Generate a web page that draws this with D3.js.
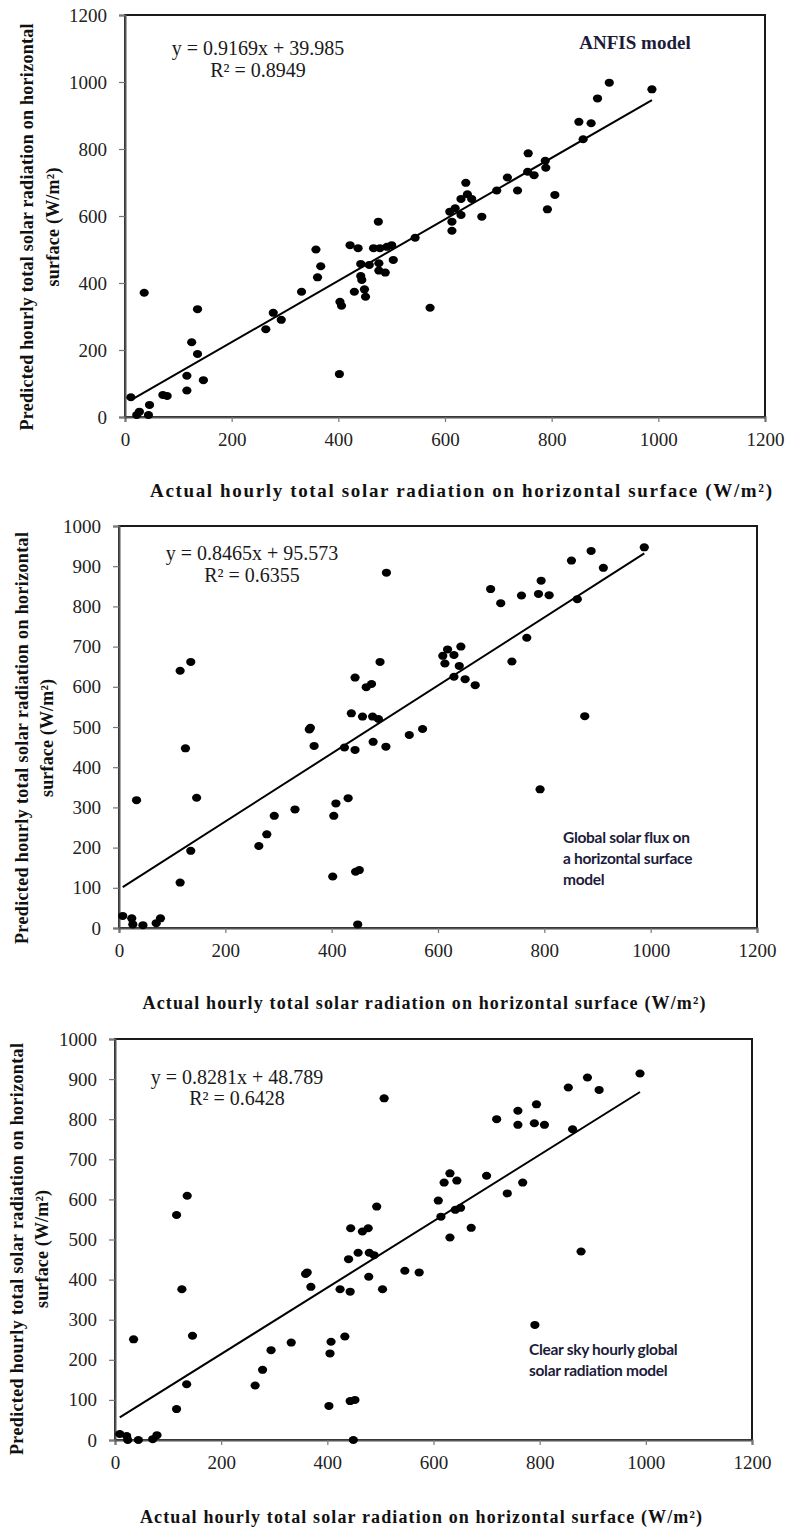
<!DOCTYPE html>
<html>
<head>
<meta charset="utf-8">
<script src="https://cdn.jsdelivr.net/npm/d3@7"></script>
<style>
  html, body { margin: 0; padding: 0; background: #fff; }
  svg { display: block; }
</style>
</head>
<body>
<div id="chart"></div>
<script>
// ---------- DATA ----------
const xTicks = [0, 200, 400, 600, 800, 1000, 1200];
const yTicksAnfis = [0, 200, 400, 600, 800, 1000, 1200];
const yTicksModels = [0, 100, 200, 300, 400, 500, 600, 700, 800, 900, 1000];

// Panel 1: ANFIS model
const anfisActual = [11, 22, 27, 44, 46, 36, 71, 79, 116, 116, 125, 136, 136, 147, 264, 278, 293, 331, 358, 361, 367, 402, 403, 406, 422, 437, 430, 442, 442, 444, 449, 451, 458, 466, 475, 478, 476, 476, 488, 491, 503, 500,
  544, 572, 609, 613, 613, 619, 630, 630, 639, 642, 650, 669, 697, 717, 736, 756, 755, 767, 788, 789, 792, 806, 851, 859, 874, 886, 908, 988];
const anfisPredicted = [59, 6, 16, 6, 36, 371, 66, 63, 79, 123, 223, 188, 322, 110, 262, 311, 290, 374, 500, 417, 450, 128, 344, 332, 513, 504, 374, 457, 421, 409, 381, 359, 454, 504, 583, 504, 459, 437, 431, 508, 469, 513,
  535, 326, 613, 583, 556, 623, 603, 651, 699, 665, 651, 598, 676, 715, 676, 787, 732, 722, 765, 744, 620, 663, 881, 829, 877, 951, 998, 978];

// Panel 2: Global solar flux on a horizontal surface model
const fluxActual = [7, 24, 26, 45, 70, 78, 33, 115, 115, 135, 125, 135, 146, 263, 278, 292, 331, 358, 360, 367, 402, 404, 408, 424, 431, 437, 444, 444, 445, 452, 449, 458, 465, 475, 477, 488, 478, 491, 502, 503,
  546, 571, 609, 613, 618, 630, 643, 640, 630, 651, 670, 699, 718, 739, 757, 767, 789, 794, 809, 792, 862, 876, 851, 888, 911, 988];
const fluxPredicted = [30, 24, 9, 7, 12, 24, 318, 113, 640, 662, 447, 192, 324, 204, 233, 279, 295, 494, 498, 453, 128, 279, 310, 449, 323, 534, 623, 443, 140, 144, 9, 526, 599, 607, 526, 520, 463, 662, 451, 884,
  480, 495, 677, 658, 693, 679, 700, 652, 625, 619, 604, 843, 808, 663, 827, 722, 831, 864, 828, 345, 818, 527, 914, 938, 896, 947];

// Panel 3: Clear sky hourly global solar radiation model
const clearActual = [116, 136, 126, 359, 362, 369, 424, 443, 440, 444, 458, 466, 477, 479, 488, 478, 493, 504, 507,
  9, 22, 24, 44, 71, 79, 35, 116, 135, 146, 264, 278, 294, 332, 403, 405, 407, 433, 443, 452, 449,
  609, 614, 620, 631, 644, 641, 651, 631, 671, 700, 719, 739, 759, 759, 768, 794, 790, 809, 862, 854, 878, 890, 912, 989, 546, 573, 791];
const clearPredicted = [561, 609, 376, 414, 418, 382, 376, 370, 451, 528, 467, 520, 528, 467, 461, 407, 582, 376, 852,
  15, 10, 0, 0, 2, 12, 251, 77, 139, 260, 136, 175, 224, 243, 85, 216, 245, 258, 97, 100, 0,
  597, 557, 642, 665, 647, 574, 579, 505, 529, 659, 800, 615, 821, 786, 642, 837, 790, 786, 775, 879, 470, 904, 873, 914, 422, 418, 287];

const slopes = [0.9169, 0.8465, 0.8281];
const intercepts = [39.985, 95.573, 48.789];
const equationTexts = ["y = 0.9169x + 39.985", "y = 0.8465x + 95.573", "y = 0.8281x + 48.789"];
const r2Texts = ["R² = 0.8949", "R² = 0.6355", "R² = 0.6428"];
const modelLabels = [["ANFIS model"], ["Global solar flux on", "a horizontal surface", "model"], ["Clear sky hourly global", "solar radiation model"]];
const yTitle1 = "Predicted hourly total solar radiation on horizontal";
const yTitle2 = "surface (W/m²)";
const xTitle = "Actual hourly total solar radiation on horizontal surface (W/m²)";

// ---------- LAYOUT ----------
const panels = [
  { xs: anfisActual, ys: anfisPredicted, yMax: 1200, yTicks: yTicksAnfis,
    left: 125, right: 765, top: 15, bottom: 417,
    eq: [258, 55, 77], label: { x: 635, y: 49, anchor: "middle", serif: true, lh: 21 },
    xt: { cx: 461, y: 497, len: 622, fs: 19 },
    yt: { x1: 27, x2: 53, cy: 227, len1: 407, len2: 119 } },
  { xs: fluxActual, ys: fluxPredicted, yMax: 1000, yTicks: yTicksModels,
    left: 119, right: 757, top: 526, bottom: 928,
    eq: [252, 560, 582], label: { x: 563, y: 843, anchor: "start", serif: false, lh: 21 },
    xt: { cx: 424, y: 1009, len: 563, fs: 18 },
    yt: { x1: 22, x2: 47, cy: 738, len1: 412, len2: 118 } },
  { xs: clearActual, ys: clearPredicted, yMax: 1000, yTicks: yTicksModels,
    left: 115, right: 752, top: 1039, bottom: 1440,
    eq: [237, 1084, 1105], label: { x: 529, y: 1355, anchor: "start", serif: false, lh: 21 },
    xt: { cx: 421, y: 1523, len: 562, fs: 18 },
    yt: { x1: 17, x2: 42, cy: 1249, len1: 412, len2: 118 } }
];

const W = 786, H = 1529;
const serif = "'Liberation Serif', 'Times New Roman', serif";
const sans = "Lato, 'Open Sans', sans-serif";

const svg = d3.select("#chart").append("svg")
  .attr("width", W).attr("height", H).attr("viewBox", `0 0 ${W} ${H}`);

panels.forEach((p, i) => {
  const x = d3.scaleLinear().domain([0, 1200]).range([p.left, p.right]);
  const y = d3.scaleLinear().domain([0, p.yMax]).range([p.bottom, p.top]);
  const g = svg.append("g");

  // frame
  g.append("rect")
    .attr("x", p.left).attr("y", p.top)
    .attr("width", p.right - p.left).attr("height", p.bottom - p.top)
    .attr("fill", "none").attr("stroke", "#1a1a1a").attr("stroke-width", 2);

  // axes
  const xAxis = g.append("g").attr("transform", `translate(0,${p.bottom})`)
    .call(d3.axisBottom(x).tickValues(xTicks).tickSize(5).tickPadding(11).tickFormat(d3.format("d")));
  const yAxis = g.append("g").attr("transform", `translate(${p.left},0)`)
    .call(d3.axisLeft(y).tickValues(p.yTicks).tickSize(6).tickPadding(12).tickFormat(d3.format("d")));
  [xAxis, yAxis].forEach(a => {
    a.select(".domain").attr("stroke", "#555").attr("stroke-width", 2);
    a.selectAll(".tick line").attr("stroke", "#777").attr("stroke-width", 1.2);
    a.selectAll(".tick text").attr("font-family", serif).attr("font-size", 19).attr("fill", "#222");
  });

  // trend line
  const xMin = d3.min(p.xs), xMax = d3.max(p.xs);
  g.append("line")
    .attr("x1", x(xMin)).attr("y1", y(slopes[i] * xMin + intercepts[i]))
    .attr("x2", x(xMax)).attr("y2", y(slopes[i] * xMax + intercepts[i]))
    .attr("stroke", "#000").attr("stroke-width", 2);

  // points
  g.append("g").selectAll("ellipse")
    .data(p.xs.map((v, k) => [v, p.ys[k]]))
    .join("ellipse")
    .attr("cx", d => x(d[0])).attr("cy", d => y(d[1]))
    .attr("rx", 4.6).attr("ry", 4.0)
    .attr("fill", "#000");

  // equation
  g.append("text").attr("x", p.eq[0]).attr("y", p.eq[1])
    .attr("text-anchor", "middle").attr("font-family", serif).attr("font-size", 20).attr("fill", "#1a1a1a")
    .text(equationTexts[i]);
  g.append("text").attr("x", p.eq[0]).attr("y", p.eq[2])
    .attr("text-anchor", "middle").attr("font-family", serif).attr("font-size", 20).attr("fill", "#1a1a1a")
    .text(r2Texts[i]);

  // model label
  modelLabels[i].forEach((line, k) => {
    g.append("text").attr("x", p.label.x).attr("y", p.label.y + k * p.label.lh)
      .attr("text-anchor", p.label.anchor)
      .attr("font-family", p.label.serif ? serif : sans)
      .attr("font-weight", "bold")
      .attr("font-size", p.label.serif ? 19 : 15.5)
      .attr("letter-spacing", p.label.serif ? 0 : -0.3)
      .attr("fill", "#1c1c3a")
      .text(line);
  });

  // x title
  g.append("text").attr("x", p.xt.cx).attr("y", p.xt.y)
    .attr("text-anchor", "middle").attr("font-family", serif).attr("font-weight", "bold")
    .attr("font-size", p.xt.fs).attr("fill", "#111")
    .attr("textLength", p.xt.len).attr("lengthAdjust", "spacing")
    .text(xTitle);

  // y title (two lines)
  [[p.yt.x1, p.yt.len1, yTitle1], [p.yt.x2, p.yt.len2, yTitle2]].forEach(([tx, len, txt]) => {
    g.append("text")
      .attr("transform", `translate(${tx},${p.yt.cy}) rotate(-90)`)
      .attr("text-anchor", "middle").attr("dy", "0.35em")
      .attr("font-family", serif).attr("font-weight", "bold").attr("font-size", 18).attr("fill", "#111")
      .attr("textLength", len).attr("lengthAdjust", "spacing")
      .text(txt);
  });
});
</script>
</body>
</html>
